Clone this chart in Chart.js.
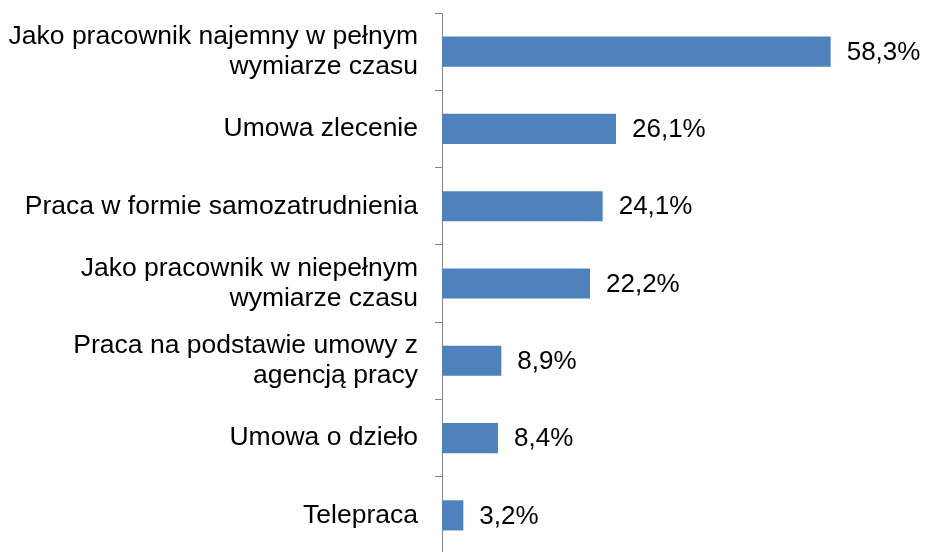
<!DOCTYPE html>
<html>
<head>
<meta charset="utf-8">
<script src="https://cdn.jsdelivr.net/npm/chart.js@4"></script>
<style>
  html, body { margin: 0; padding: 0; background: #fff; overflow: hidden; }
  #wrap { position: relative; width: 926px; height: 556px; }
</style>
</head>
<body>
<div id="wrap"><canvas id="myChart"></canvas></div>
<script>
let categories = [
  ['Jako pracownik najemny w pełnym', 'wymiarze czasu'],
  'Umowa zlecenie',
  'Praca w formie samozatrudnienia',
  ['Jako pracownik w niepełnym', 'wymiarze czasu'],
  ['Praca na podstawie umowy z', 'agencją pracy'],
  'Umowa o dzieło',
  'Telepraca'
]
let values = [58.3, 26.1, 24.1, 22.2, 8.9, 8.4, 3.2]

const font = "'Liberation Sans', Arial, sans-serif"
const gray = '#868686'

// etykiety z wartościami po prawej stronie słupków
const valueLabels = {
  id: 'valueLabels',
  afterDatasetsDraw(chart) {
    const ctx = chart.ctx
    const meta = chart.getDatasetMeta(0)
    ctx.save()
    ctx.font = '26px ' + font
    ctx.fillStyle = '#000'
    ctx.textAlign = 'left'
    ctx.textBaseline = 'middle'
    meta.data.forEach((bar, i) => {
      let txt = values[i].toFixed(1).replace('.', ',') + '%'
      ctx.fillText(txt, bar.x + 16, bar.y + 1)
    })
    ctx.restore()
  }
}

const data = {
  labels: categories,
  datasets: [
    {
      data: values,
      backgroundColor: '#4F81BD',
      borderWidth: 0,
      categoryPercentage: 1,
      barPercentage: 0.39
    }
  ]
}

const config = {
  type: 'bar',
  data: data,
  options: {
    indexAxis: 'y',
    responsive: true,
    maintainAspectRatio: false,
    animation: false,
    layout: { padding: { top: 13, bottom: 2, left: 0, right: 84 } },
    plugins: {
      legend: { display: false },
      tooltip: { enabled: false }
    },
    scales: {
      x: { display: false, min: 0, max: 60 },
      y: {
        grid: {
          offset: true,
          drawOnChartArea: false,
          drawTicks: true,
          tickLength: 7,
          color: gray
        },
        border: { color: gray, width: 1 },
        ticks: {
          color: '#000',
          padding: 17,
          font: { family: font, size: 26.5, lineHeight: 1.15 }
        },
        afterFit(scale) {
          scale.width = 442
          scale.paddingTop = 0
          scale.paddingBottom = 0
        }
      }
    }
  },
  plugins: [valueLabels]
}

const myChart = new Chart(document.getElementById('myChart'), config)
</script>
</body>
</html>
